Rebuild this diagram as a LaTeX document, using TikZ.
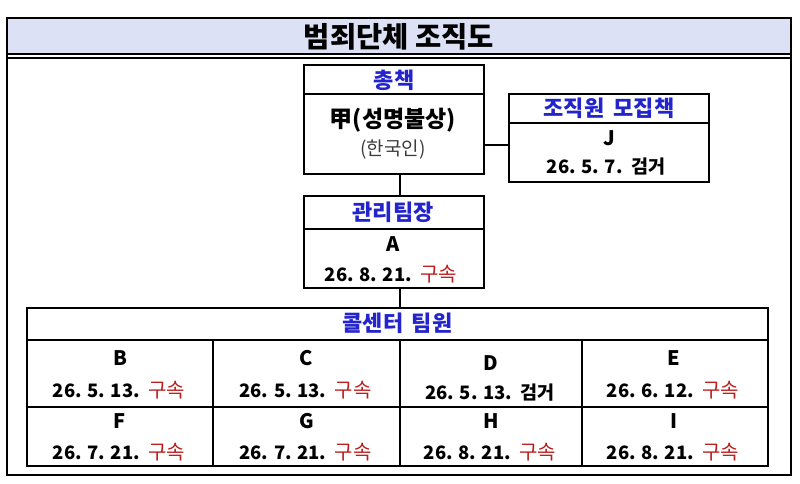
\documentclass[tikz,border=0pt]{standalone}
\usepackage{fontspec}
\setmainfont{Noto Sans CJK KR}
\definecolor{hdrblue}{RGB}{36,36,205}
\definecolor{arrestred}{RGB}{185,30,30}
\definecolor{bandfill}{RGB}{221,225,245}
\definecolor{softgray}{RGB}{60,60,60}
\tikzset{
  box/.style={draw=black, line width=1.8pt, inner sep=0pt, outer sep=0pt},
  hdr/.style={text=hdrblue, font=\fontsize{22}{25}\bfseries\selectfont, inner sep=0pt},
  persont/.style={font=\fontsize{20}{23}\bfseries\selectfont, inner sep=0pt},
  datet/.style={font=\fontsize{18.5}{21}\bfseries\selectfont, inner sep=0pt},
  link/.style={line width=1.6pt},
  gridline/.style={line width=1.6pt}
}
\newcommand{\arrestword}{\hspace{0.15em}\textcolor{arrestred}{\fontsize{20}{23}\mdseries\selectfont 구속}}
\newcommand{\caughtword}{\hspace{0.15em}검거}
\begin{document}
\begin{tikzpicture}[x=1pt,y=-1pt]
\useasboundingbox (0,0) rectangle (800,484);
% outer frame and title band
\fill[bandfill] (7,18) rectangle (791,54);
\node[draw=black, line width=1.5pt, minimum width=784pt, minimum height=457pt, inner sep=0pt] (frame) at (399,246.5) {};
\draw[line width=1.3pt] (7,54) -- (791,54);
\draw[line width=1.3pt] (7,58) -- (791,58);
\node[font=\fontsize{28.5}{31}\bfseries\selectfont, inner sep=0pt] (title) at (399,37) {범죄단체 조직도};

% chief
\node[box, minimum width=180pt, minimum height=109pt] (chief) at (394,119.5) {};
\draw[gridline] (304,94) -- (484,94);
\node[hdr] (chiefhdr) at (394,80) {총책};
\node[persont, font=\fontsize{23}{26}\bfseries\selectfont] (chiefname) at (393,120) {甲(성명불상)};
\node[inner sep=0pt, text=softgray, font=\fontsize{19}{22}\selectfont] (chiefnat) at (393,150) {(한국인)};

% recruiter
\node[box, minimum width=200pt, minimum height=88pt] (recruit) at (609,138) {};
\draw[gridline] (509,123) -- (709,123);
\node[hdr] (recruithdr) at (609,108) {조직원\hspace{0.2em} 모집책};
\node[persont] (recruitJ) at (609,138) {J};
\node[datet] (recruitdate) at (606,167) {26. 5. 7. \caughtword};

% manager
\node[box, minimum width=180pt, minimum height=92pt] (mgr) at (394,242) {};
\draw[gridline] (304,229) -- (484,229);
\node[hdr] (mgrhdr) at (393,212) {관리팀장};
\node[persont] (mgrA) at (393,244) {A};
\node[datet] (mgrdate) at (391,274) {26. 8. 21. \arrestword};

% call center table
\node[box, minimum width=741pt, minimum height=158pt] (team) at (397.5,387) {};
\draw[gridline] (27,340) -- (768,340);
\draw[gridline] (27,407) -- (768,407);
\draw[gridline] (213,340) -- (213,466);
\draw[gridline] (400,340) -- (400,466);
\draw[gridline] (582,340) -- (582,466);
\node[hdr] (teamhdr) at (397.5,323) {콜센터\hspace{0.15em} 팀원};

\node[persont] (mB) at (120,358) {B};
\node[datet] (dB) at (119,390) {26. 5. 13. \arrestword};
\node[persont] (mC) at (306.5,358) {C};
\node[datet] (dC) at (305.5,390) {26. 5. 13. \arrestword};
\node[persont] (mD) at (491,363) {D};
\node[datet] (dD) at (490,393) {26. 5. 13. \caughtword};
\node[persont] (mE) at (674,358) {E};
\node[datet] (dE) at (673,390) {26. 6. 12. \arrestword};

\node[persont] (mF) at (120,421) {F};
\node[datet] (dF) at (119,452) {26. 7. 21. \arrestword};
\node[persont] (mG) at (306.5,421) {G};
\node[datet] (dG) at (305.5,452) {26. 7. 21. \arrestword};
\node[persont] (mH) at (491,421) {H};
\node[datet] (dH) at (490,452) {26. 8. 21. \arrestword};
\node[persont] (mI) at (674,421) {I};
\node[datet] (dI) at (673,452) {26. 8. 21. \arrestword};

% connectors
\coordinate (spine) at (400,0);
\coordinate (sidelink) at (0,145);
\draw[link] (spine |- chief.south) -- (spine |- mgr.north);
\draw[link] (spine |- mgr.south) -- (spine |- team.north);
\draw[link] (chief.east |- sidelink) -- (recruit.west |- sidelink);
\end{tikzpicture}
\end{document}
